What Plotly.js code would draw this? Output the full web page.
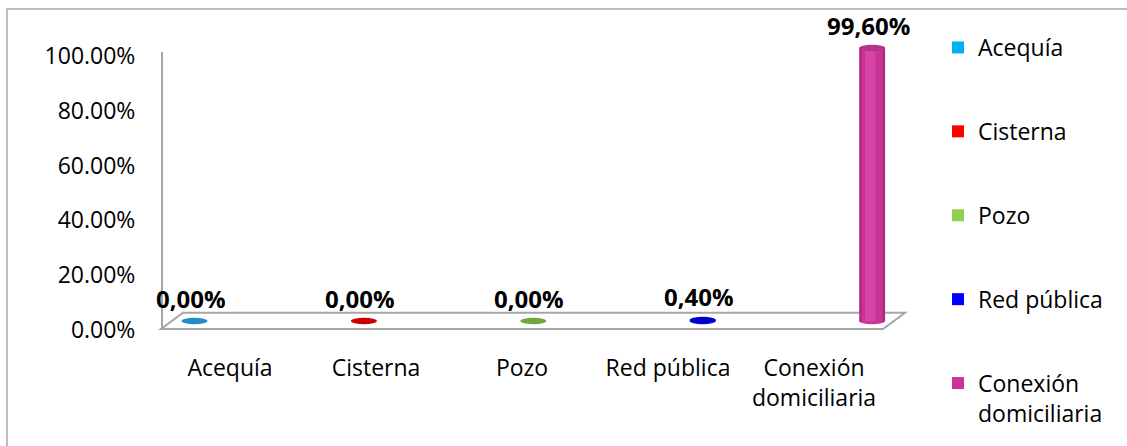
<!DOCTYPE html>
<html>
<head>
<meta charset="utf-8">
<script src="https://cdn.plot.ly/plotly-3.0.1.min.js"></script>
<style>
  html, body { margin: 0; padding: 0; background: #ffffff; }
  #chart { width: 1127px; height: 446px; }
</style>
</head>
<body>
<div id="chart"></div>
<script>
// ---- data ----
const categories = ['Acequía', 'Cisterna', 'Pozo', 'Red pública', 'Conexión<br>domiciliaria'];
const seriesNames = ['Acequía', 'Cisterna', 'Pozo', 'Red pública', 'Conexión<br>domiciliaria'];
const values = [0.00, 0.00, 0.00, 0.40, 99.60];
const yTickVals = [0, 20, 40, 60, 80, 100];
const yTickText = ['0.00%', '20.00%', '40.00%', '60.00%', '80.00%', '100.00%'];

// ---- styles ----
const mainColors  = ['#00B0F0', '#FF0000', '#92D050', '#0000FF', '#CC3399'];
const darkColors  = ['#1a86bf', '#c00000', '#6f9f3c', '#0000c0', '#b02784'];
const lightColors = ['#40c4f4', '#ff4040', '#a8dc70', '#4040ff', '#d645a3'];
const capColors   = ['#1f8fc6', '#cc0000', '#74a640', '#0000c8', '#b5338a'];

const FONT = 'Open Sans, Noto Sans, sans-serif';
const barW = 0.153;
const capH = 1.15;

const idx = categories.map((_, i) => i);
const traces = [];
idx.forEach(i => {
  // outer body (cylinder edges)
  traces.push({
    type: 'bar', x: [i], y: [values[i]], width: barW,
    marker: { color: darkColors[i], line: { width: 0 } },
    showlegend: false, hoverinfo: 'skip', xaxis: 'x', yaxis: 'y'
  });
  // main body (legend entry)
  traces.push({
    type: 'bar', x: [i], y: [values[i]], width: barW * 0.8,
    name: seriesNames[i], legendgroup: 'g' + i,
    marker: { color: mainColors[i], line: { width: 0 } },
    hoverinfo: 'skip', xaxis: 'x', yaxis: 'y'
  });
  // soft highlight
  traces.push({
    type: 'bar', x: [i], y: [values[i]], width: barW * 0.4, offset: -barW * 0.28,
    marker: { color: lightColors[i], line: { width: 0 } },
    showlegend: false, hoverinfo: 'skip', xaxis: 'x', yaxis: 'y'
  });
});
// axis carrier for the label axes
traces.push({
  type: 'scatter', x: idx, y: values, mode: 'none',
  xaxis: 'x2', yaxis: 'y2', showlegend: false, hoverinfo: 'skip'
});

// ---- decorative shapes ----
const L = 162, R = 905, T = 30, B = 345;
const px = p => (p - L) / (R - L);
const py = p => (B - p) / (B - T);
const shapes = [
  { type: 'rect', xref: 'paper', yref: 'paper', x0: px(7), x1: px(1140), y0: py(460), y1: py(9),
    line: { color: '#a6a6a6', width: 1.5 }, fillcolor: 'rgba(0,0,0,0)', layer: 'below' },
  { type: 'path', xref: 'paper', yref: 'paper',
    path: `M${px(161)},${py(329)} L${px(883)},${py(329)} L${px(905)},${py(312.7)} L${px(183)},${py(312.7)} Z`,
    line: { color: '#a6a6a6', width: 2 }, fillcolor: '#ffffff', layer: 'below' },
  { type: 'line', xref: 'paper', yref: 'paper', x0: px(162), x1: px(162), y0: py(329), y1: py(52),
    line: { color: '#a6a6a6', width: 2 }, layer: 'below' }
];
idx.forEach(i => {
  if (values[i] > 0) {
    shapes.push({ type: 'circle', xref: 'x', yref: 'y', layer: 'below',
      x0: i - barW / 2, x1: i + barW / 2, y0: -capH, y1: capH,
      fillcolor: mainColors[i], line: { width: 0 } });
  }
  shapes.push({ type: 'circle', xref: 'x', yref: 'y', layer: 'above',
    x0: i - barW / 2, x1: i + barW / 2, y0: values[i] - capH, y1: values[i] + capH,
    fillcolor: capColors[i], line: { width: 0 } });
});

// ---- data labels ----
const annotations = idx.map(i => ({
  xref: 'x', yref: 'y', x: i, y: values[i],
  text: '<b>' + values[i].toFixed(2).replace('.', ',') + '%</b>',
  showarrow: false, xanchor: 'center', yanchor: 'middle',
  xshift: -4, yshift: 23,
  font: { family: FONT, size: 24, color: '#000000' }
}));

const layout = {
  width: 1127, height: 446,
  margin: { l: L, r: 1127 - R, t: T, b: 446 - B, pad: 0 },
  paper_bgcolor: '#ffffff', plot_bgcolor: 'rgba(0,0,0,0)',
  barmode: 'overlay',
  font: { family: FONT, size: 23, color: '#000000' },
  xaxis: { range: [-0.1919, 4.194], visible: false, fixedrange: true },
  yaxis: { range: [-8.756, 106.17], visible: false, fixedrange: true },
  xaxis2: {
    overlaying: 'x', anchor: 'y2', side: 'bottom',
    range: [-0.4658, 4.623], tickmode: 'array', tickvals: idx, ticktext: categories,
    showgrid: false, zeroline: false, showline: false,
    ticks: 'outside', ticklen: 2, tickcolor: 'rgba(0,0,0,0)',
    tickfont: { family: FONT, size: 23, color: '#000000' }
  },
  yaxis2: {
    overlaying: 'y', anchor: 'x2', side: 'left',
    range: [-5.474, 109.49], tickmode: 'array', tickvals: yTickVals, ticktext: yTickText,
    showgrid: false, zeroline: false, showline: false,
    ticks: 'outside', ticklen: 21, tickcolor: 'rgba(0,0,0,0)',
    tickfont: { family: FONT, size: 23, color: '#000000' }
  },
  legend: {
    x: px(938), xanchor: 'left', y: py(26), yanchor: 'top',
    traceorder: 'grouped', tracegroupgap: 51, valign: 'top',
    maxheight: 440,
    font: { family: FONT, size: 23, color: '#000000' },
    bgcolor: 'rgba(0,0,0,0)'
  },
  shapes: shapes,
  annotations: annotations,
  showlegend: true
};

Plotly.newPlot('chart', traces, layout, { displayModeBar: false, staticPlot: true });
</script>
</body>
</html>
